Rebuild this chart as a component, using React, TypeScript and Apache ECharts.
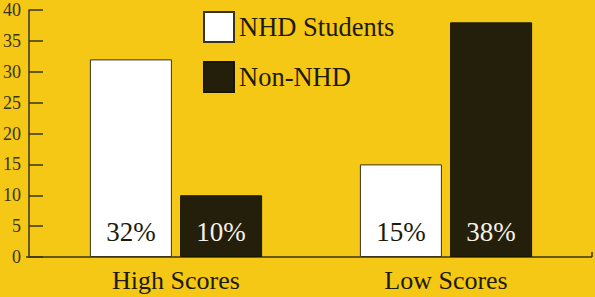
import React, { useEffect, useRef } from "react";
import * as echarts from "echarts";

const categories = ["High Scores", "Low Scores"];
const nhdValues = [32, 15];
const nonNhdValues = [10, 38];
const nhdLabels = ["32%", "15%"];
const nonNhdLabels = ["10%", "38%"];
const seriesNames = ["NHD Students", "Non-NHD"];

const BG = "#F4C814";
const DARK = "#241F0B";
const FONT = "Liberation Serif";

export default function App() {
  const ref = useRef<HTMLDivElement>(null);
  useEffect(() => {
    document.body.style.margin = "0";
    const chart = echarts.init(ref.current!, null, { renderer: "svg" });
    chart.setOption({
      animation: false,
      backgroundColor: BG,
      textStyle: { fontFamily: FONT },
      grid: { left: 38, right: 14, top: 10, bottom: 40 },
      legend: {
        orient: "vertical",
        left: 198,
        top: 6,
        itemWidth: 30,
        itemHeight: 30,
        itemGap: 18,
        icon: "rect",
        textStyle: { fontFamily: FONT, fontSize: 26.5, color: "#1E1A08" },
        data: seriesNames,
      },
      xAxis: {
        type: "category",
        data: categories,
        axisLine: { show: false },
        axisTick: { show: false },
        axisLabel: { fontFamily: FONT, fontSize: 26, color: "#1E1A08", margin: 10 },
      },
      yAxis: {
        type: "value",
        min: 0,
        max: 40,
        interval: 5,
        offset: 12,
        splitLine: { show: false },
        axisLine: { show: true, lineStyle: { color: "#3A331C", width: 1.5 } },
        axisTick: { show: true, inside: true, length: 14, lineStyle: { color: "#3A331C", width: 1.5 } },
        axisLabel: { fontFamily: FONT, fontSize: 18, color: "#3A331C", margin: 8 },
      },
      graphic: [
        { type: "line", shape: { x1: 26, y1: 257, x2: 592, y2: 257 }, style: { stroke: "#3A331C", lineWidth: 1.5 } },
        { type: "line", shape: { x1: 592, y1: 257, x2: 592, y2: 252 }, style: { stroke: "#3A331C", lineWidth: 1.5 } },
      ],
      series: [
        {
          name: seriesNames[0],
          type: "bar",
          data: nhdValues,
          barWidth: 82,
          barGap: "10%",
          itemStyle: { color: "#FFFFFF", borderColor: "#3A331C", borderWidth: 1 },
          label: {
            show: true,
            position: "insideBottom",
            distance: 12,
            formatter: (p: any) => nhdLabels[p.dataIndex],
            fontFamily: FONT,
            fontSize: 27,
            color: "#1E1A08",
          },
        },
        {
          name: seriesNames[1],
          type: "bar",
          data: nonNhdValues,
          barWidth: 82,
          barGap: "10%",
          itemStyle: { color: DARK, borderColor: "#1A1606", borderWidth: 1 },
          label: {
            show: true,
            position: "insideBottom",
            distance: 12,
            formatter: (p: any) => nonNhdLabels[p.dataIndex],
            fontFamily: FONT,
            fontSize: 27,
            color: "#F4F1E6",
          },
        },
      ],
    });
    return () => chart.dispose();
  }, []);
  return <div ref={ref} style={{ width: 595, height: 297 }} />;
}
